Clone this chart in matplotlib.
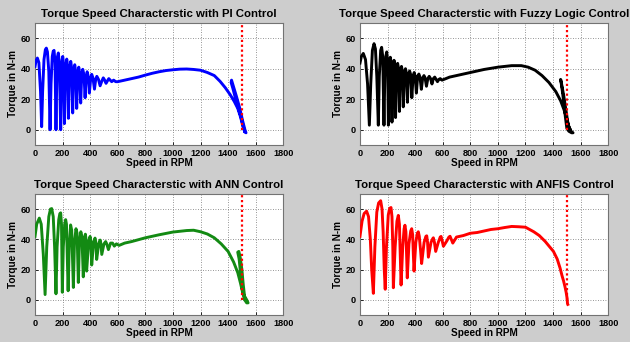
import matplotlib
matplotlib.use("Agg")
import matplotlib.pyplot as plt

plt.rcParams['font.family'] = ['Liberation Sans', 'DejaVu Sans']

# ---- data (speed in RPM, torque in N-m) ----
pi_speed = [0, 8, 17, 28, 40, 48,
            55, 65, 75, 82, 90, 100, 109,
            116, 125, 132, 138, 145, 152,
            158, 163, 169, 176, 186,
            192, 197, 201, 206, 213,
            220, 230, 236, 242,
            250, 259, 266, 273,
            280, 288, 295, 302,
            310, 317, 324, 331,
            338, 346, 355, 363,
            370, 378, 386, 394,
            403, 411, 420, 431,
            440, 448, 460, 472,
            485, 495, 505, 515,
            525, 535, 545, 556,
            570, 585, 600,
            650, 700, 750, 800, 850, 900, 950, 1000, 1050, 1100, 1150, 1200,
            1250, 1300, 1342, 1380, 1415, 1445, 1470, 1488, 1500, 1512, 1522, 1530,
            1522, 1505, 1485, 1460, 1440, 1425, 1422, 1435, 1455, 1475, 1495, 1510, 1520]
pi_torque = [41.5, 45.5, 47, 44, 25, 2,
             25, 46, 52.5, 53.5, 51, 38, 0,
             30, 48, 51.5, 52, 44, 0,
             35, 48, 50.3, 44, 0,
             35, 46, 48, 44, 4,
             38, 46.3, 42, 7.5,
             38, 44.8, 40, 11,
             38, 42.6, 38, 14,
             36, 41, 37, 17.5,
             35, 39.6, 36, 21,
             34, 38, 35, 24,
             33, 36.3, 34, 26.6,
             33, 35, 33, 28.8,
             32, 34, 32.5, 30.4,
             32, 33.5, 32.5, 31.5,
             32.5, 31.5, 31.5,
             32.5, 33.5, 34.5, 35.8, 37, 38, 38.8, 39.3, 39.7, 39.8, 39.5, 39,
             37.5, 35.5, 31.7, 27.5, 23, 18.5, 14, 9, 5, 1, -1.5, -2,
             0, 6, 14, 22, 28, 32.5, 31, 27, 20, 14, 8, 2, -1]

fuzzy_speed = [0, 10, 24, 40, 55, 68,
               78, 90, 102, 112, 122, 133,
               140, 150, 157, 165, 174,
               180, 187, 194, 200, 206,
               212, 220, 226, 232,
               240, 247, 253, 258,
               265, 273, 280, 286,
               293, 301, 308, 314,
               322, 330, 337, 344,
               352, 360, 368, 376,
               385, 393, 400, 409,
               418, 427, 435, 445,
               455, 464, 472, 482,
               492, 502, 512, 522,
               532, 542, 552, 562,
               572, 582, 595,
               650, 700, 800, 900, 1000, 1100, 1170, 1220, 1270, 1320, 1370,
               1420, 1455, 1480, 1500, 1515, 1530, 1545,
               1535, 1515, 1500, 1490, 1478, 1465, 1455, 1462, 1478, 1495, 1510, 1525]
fuzzy_torque = [43.7, 48, 50, 46, 30, 3,
                30, 52, 56.4, 53, 35, 3,
                35, 52, 54, 48, 3,
                35, 48, 51, 45, 3,
                35, 47.5, 44, 5,
                38, 45.5, 42, 8,
                38, 43.5, 40, 12,
                38, 41.5, 38, 15,
                37, 40, 37, 18,
                36, 38.5, 36, 21,
                35, 37.5, 35, 24,
                35, 36.5, 34.5, 26.5,
                34, 35.5, 34, 28.5,
                33.5, 35, 33.5, 30,
                33.5, 34.5, 33, 31.5,
                33, 33.5, 32.5,
                34.5, 35.5, 37.5, 39.5, 41, 42, 42, 41, 39, 35.5, 31,
                25, 19, 13, 7, 2, -1, -2,
                -2, -1, 1, 8, 18, 27, 33, 30, 22, 12, 3, 0]

ann_speed = [0, 12, 31, 45, 60, 73,
             85, 100, 112, 121, 132, 142, 152,
             160, 172, 180, 186, 192, 198,
             205, 215, 222, 228, 240,
             248, 258, 266, 278,
             286, 297, 305, 314,
             322, 332, 340, 350,
             357, 365, 370, 374,
             390, 399, 405, 411,
             425, 435, 441, 447,
             462, 472, 478, 484,
             500, 512, 520, 532,
             548, 562, 575, 590, 610,
             650, 700, 800, 900, 1000, 1100, 1150, 1200, 1250, 1300, 1350,
             1400, 1440, 1470, 1490, 1505, 1520, 1535, 1545,
             1535, 1515, 1500, 1490, 1480, 1470, 1478, 1488, 1500, 1510, 1520]
ann_torque = [42, 50, 54, 50, 30, 3.5,
              35, 55, 60, 60.3, 55, 35, 4,
              35, 53, 57, 57.5, 50, 5,
              35, 50, 53, 50, 6,
              35, 49.5, 46, 8.2,
              38, 47, 44, 11.5,
              38, 45, 42, 15.2,
              40, 43.4, 40, 19,
              39, 41.9, 39, 23,
              38, 40.8, 38, 26.7,
              37, 39.5, 37, 30,
              37, 38.5, 37, 33.2,
              37.5, 37.5, 35.5, 37, 36,
              37.5, 38.5, 41, 43, 44.8, 45.8, 46, 45, 43.5, 41, 37,
              32, 25, 18, 11, 5, 0, -2, -2,
              0, 3, 8, 18, 27, 31.5, 32, 28, 20, 10, 2]

anfis_speed = [0, 15, 30, 48, 62, 75, 85, 97,
               108, 122, 135, 150, 160, 168, 176, 183,
               192, 205, 215, 225, 232, 238, 242,
               255, 268, 278, 286, 292, 298,
               310, 320, 326, 333, 338, 343,
               355, 368, 375, 382, 387, 392,
               405, 416, 423, 430, 440, 447,
               465, 478, 484, 490, 496,
               515, 528, 532, 540, 549,
               568, 582, 588, 596, 605,
               630, 645, 653, 662, 673,
               700, 750, 800, 850, 900, 950, 1000, 1050, 1100, 1150, 1200,
               1220, 1260, 1300, 1343, 1403, 1430, 1451, 1465, 1476, 1487, 1495,
               1502, 1505, 1507]
anfis_torque = [42, 52, 57, 58.6, 55, 40, 20, 4.3,
                35, 58, 64, 65.5, 60, 45, 20, 7,
                35, 56, 60.5, 61, 55, 35, 8,
                35, 52, 55.8, 50, 30, 9.8,
                35, 47, 49.3, 45, 30, 14.5,
                37, 45.5, 47, 43, 30, 19,
                38, 44, 45, 42, 32, 24,
                38, 42, 42.3, 38, 28.2,
                38, 40.5, 41, 38, 32,
                38, 41.5, 41.9, 39, 35.4,
                39, 41.5, 42, 40, 37.5,
                41.5, 42.5, 44, 44.5, 45.5, 46.5, 47, 47.8, 48.5, 48.3, 48,
                47, 45, 42.5, 38.6, 32, 27, 21, 16, 12.6, 8.5, 5,
                1, -2.6, -3]

titles = ['Torque Speed Characterstic with PI Control',
          'Torque Speed Characterstic with Fuzzy Logic Control',
          'Torque Speed Characterstic with ANN Control',
          'Torque Speed Characterstic with ANFIS Control']
series = [(pi_speed, pi_torque, '#0000ff'),
          (fuzzy_speed, fuzzy_torque, '#000000'),
          (ann_speed, ann_torque, '#138a13'),
          (anfis_speed, anfis_torque, '#ff0000')]

ref_speed = 1500
ref_line_y = [0, 75]
x_ticks = list(range(0, 1801, 200))
y_ticks = [0, 20, 40, 60]

bg = '#cdcdcd'
fig = plt.figure(figsize=(6.3, 3.42), dpi=100, facecolor=bg)

# axes boxes [left, bottom, width, height] in figure fraction
boxes = [[0.0556, 0.576, 0.394, 0.357],
         [0.5714, 0.576, 0.394, 0.357],
         [0.0556, 0.079, 0.394, 0.354],
         [0.5714, 0.079, 0.394, 0.354]]

for box, title, (spd, trq, col) in zip(boxes, titles, series):
    ax = fig.add_axes(box)
    ax.set_facecolor('white')
    ax.plot(spd, trq, color=col, lw=2.1, solid_joinstyle='round', zorder=3)
    ax.plot([ref_speed, ref_speed], ref_line_y, color='#ff0000', lw=1.6,
            linestyle=(0, (1, 1.2)), zorder=4)
    ax.set_xlim(0, 1800)
    ax.set_ylim(-10, 70)
    ax.set_xticks(x_ticks)
    ax.set_yticks(y_ticks)
    ax.grid(True, color='0.45', linestyle=(0, (1, 2)), lw=0.6)
    ax.tick_params(direction='in', length=2, width=0.6, labelsize=6.6, pad=3)
    for lab in ax.get_xticklabels() + ax.get_yticklabels():
        lab.set_fontweight('bold')
    for sp in ax.spines.values():
        sp.set_color('0.45')
        sp.set_linewidth(0.8)
    ax.set_title(title, fontsize=8.2, fontweight='bold', pad=4)
    ax.set_xlabel('Speed in RPM', fontsize=7.2, fontweight='bold', labelpad=0)
    ax.set_ylabel('Torque in N-m', fontsize=7.2, fontweight='bold', labelpad=2)

fig.savefig('out.png', dpi=100, facecolor=bg)
